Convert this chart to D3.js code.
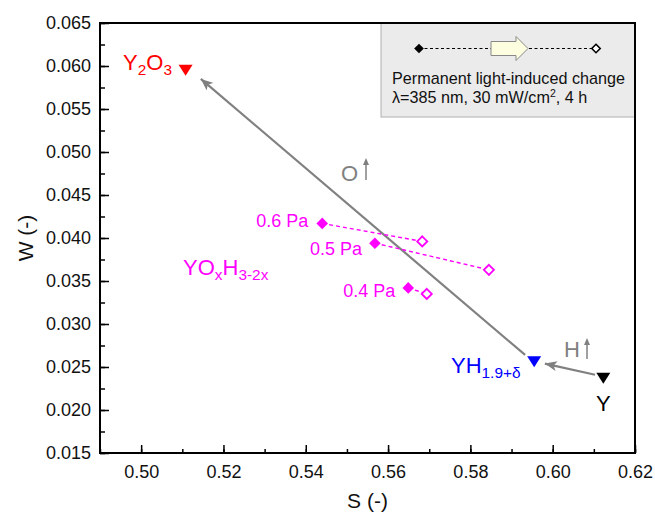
<!DOCTYPE html>
<html><head><meta charset="utf-8">
<script src="https://cdn.jsdelivr.net/npm/d3@7"></script>
<style>body{margin:0;background:#fff}svg{display:block;font-family:"Liberation Sans",Arial,sans-serif}</style>
</head><body><svg id="c" width="655" height="516"></svg>
<script>
// ---- data ----
const pressures = ["0.6 Pa", "0.5 Pa", "0.4 Pa"];
const beforeS = [0.5440, 0.5568, 0.5649];
const beforeW = [0.0417, 0.0394, 0.0342];
const afterS = [0.5683, 0.5845, 0.5694];
const afterW = [0.0396, 0.0363, 0.0335];
const refNames = ["Y2O3", "YH", "Y"];
const refS = [0.5108, 0.5955, 0.6123];
const refW = [0.0595, 0.0256, 0.0237];
const refColors = ["#ff0000", "#0000ff", "#000000"];
// annotation arrows [fromS, fromW, toS, toW]
const arrowO = [0.5933, 0.0264, 0.5145, 0.0585];
const arrowH = [0.6103, 0.0241, 0.5981, 0.0254];
const xTicks = [0.50, 0.52, 0.54, 0.56, 0.58, 0.60, 0.62];
const yTicks = [0.015, 0.020, 0.025, 0.030, 0.035, 0.040, 0.045, 0.050, 0.055, 0.060, 0.065];

const svg = d3.select("#c");
const L = 100, R = 635, T = 23, B = 453;
const x = d3.scaleLinear().domain([0.49, 0.62]).range([L, R]);
const y = d3.scaleLinear().domain([0.015, 0.065]).range([B, T]);
const MAG = "#ff00ff";

// legend box
svg.append("rect").attr("x", 381).attr("y", T).attr("width", R - 381).attr("height", 94)
  .attr("fill", "#ebebeb").attr("stroke", "#b0b0b0").attr("stroke-width", 1);

// axes
const xMinor = d3.range(0.49, 0.6201, 0.01).map(v => +v.toFixed(3));
const yMinor = d3.range(0.015, 0.0651, 0.0025).map(v => +v.toFixed(4));
const gx = svg.append("g").attr("transform", `translate(0,${B})`)
  .call(d3.axisBottom(x).tickValues(xMinor).tickSize(-4).tickFormat(""));
const gx2 = svg.append("g").attr("transform", `translate(0,${B})`)
  .call(d3.axisBottom(x).tickValues(xTicks).tickSize(-8).tickPadding(12).tickFormat(d3.format(".2f")));
const gy = svg.append("g").attr("transform", `translate(${L},0)`)
  .call(d3.axisLeft(y).tickValues(yMinor).tickSize(-5).tickFormat(""));
const gy2 = svg.append("g").attr("transform", `translate(${L},0)`)
  .call(d3.axisLeft(y).tickValues(yTicks).tickSize(-9).tickPadding(9).tickFormat(d3.format(".3f")));
[gx, gx2, gy, gy2].forEach(g => {
  g.select(".domain").remove();
  g.selectAll("line").attr("stroke", "#000").attr("stroke-width", 1.5);
  g.selectAll("text").attr("font-size", 18).attr("fill", "#111").attr("font-family", "Liberation Sans, Arial, sans-serif");
});
svg.append("rect").attr("x", L).attr("y", T).attr("width", R - L).attr("height", B - T)
  .attr("fill", "none").attr("stroke", "#000").attr("stroke-width", 2);

svg.append("text").attr("x", (L + R) / 2).attr("y", 508).attr("text-anchor", "middle")
  .attr("font-size", 21).attr("fill", "#111").text("S (-)");
svg.append("text").attr("transform", `translate(33,${(T + B) / 2}) rotate(-90)`).attr("text-anchor", "middle")
  .attr("font-size", 21).attr("fill", "#111").text("W (-)");

// defs arrowhead
const defs = svg.append("defs");
defs.append("marker").attr("id", "ah").attr("viewBox", "0 0 12 10").attr("refX", 12).attr("refY", 5)
  .attr("markerWidth", 12).attr("markerHeight", 10).attr("markerUnits", "userSpaceOnUse").attr("orient", "auto")
  .append("path").attr("d", "M0,0 L12,5 L0,10 L3,5 Z").attr("fill", "#808080");

[arrowO, arrowH].forEach(a => {
  svg.append("line").attr("x1", x(a[0])).attr("y1", y(a[1])).attr("x2", x(a[2])).attr("y2", y(a[3]))
    .attr("stroke", "#808080").attr("stroke-width", 2.2).attr("marker-end", "url(#ah)");
});

// magenta dashed connections
pressures.forEach((p, i) => {
  svg.append("line").attr("x1", x(beforeS[i])).attr("y1", y(beforeW[i])).attr("x2", x(afterS[i])).attr("y2", y(afterW[i]))
    .attr("stroke", MAG).attr("stroke-width", 1.4).attr("stroke-dasharray", "4,3");
});
const dia = d3.symbol().type(d3.symbolDiamond2).size(85);
svg.selectAll(".fd").data(pressures).join("path")
  .attr("transform", (d, i) => `translate(${x(beforeS[i])},${y(beforeW[i])})`)
  .attr("d", dia).attr("fill", MAG);
svg.selectAll(".od").data(pressures).join("path")
  .attr("transform", (d, i) => `translate(${x(afterS[i])},${y(afterW[i])})`)
  .attr("d", d3.symbol().type(d3.symbolDiamond2).size(65)).attr("fill", "#fff").attr("stroke", MAG).attr("stroke-width", 1.8);

// pressure labels
const plab = [[-66, 4], [-65, 12], [-65, 9]];
pressures.forEach((p, i) => {
  svg.append("text").attr("x", x(beforeS[i]) + plab[i][0]).attr("y", y(beforeW[i]) + plab[i][1])
    .attr("font-size", 18).attr("fill", MAG).text(p);
});

// reference triangles (down)
refNames.forEach((n, i) => {
  const cx = x(refS[i]), cy = y(refW[i]);
  svg.append("path").attr("d", `M${cx - 7},${cy - 5.5} L${cx + 7},${cy - 5.5} L${cx},${cy + 5.5} Z`).attr("fill", refColors[i]);
});

// labels
function sub(parts, xx, yy, col, fs) {
  const tx = svg.append("text").attr("x", xx).attr("y", yy).attr("font-size", fs).attr("fill", col);
  parts.forEach(pp => {
    const ts = tx.append("tspan").text(pp[0]);
    if (pp[1] === "sub") ts.attr("font-size", fs * 0.7).attr("dy", 5);
    else if (pp[1] === "up") ts.attr("dy", -5);
  });
  return tx;
}
sub([["Y"], ["2", "sub"], ["O", "up"], ["3", "sub"]], 123, 70, "#ff0000", 22);
sub([["YO"], ["x", "sub"], ["H", "up"], ["3-2x", "sub"]], 183, 275, MAG, 22);
sub([["YH"], ["1.9+δ", "sub"]], 451, 373, "#0000ff", 22);
svg.append("text").attr("x", 596).attr("y", 411).attr("font-size", 22).attr("fill", "#000").text("Y");
svg.append("text").attr("x", 341).attr("y", 181).attr("font-size", 22).attr("fill", "#808080").text("O");
svg.append("text").attr("x", 564).attr("y", 357).attr("font-size", 22).attr("fill", "#808080").text("H");
// small up arrows
[[366, 180, 158], [587, 359, 338]].forEach(a => {
  svg.append("line").attr("x1", a[0]).attr("y1", a[1]).attr("x2", a[0]).attr("y2", a[2] + 4)
    .attr("stroke", "#808080").attr("stroke-width", 1.5);
  svg.append("path").attr("d", `M${a[0] - 3},${a[2] + 7} L${a[0]},${a[2]} L${a[0] + 3},${a[2] + 7} Z`).attr("fill", "#808080");
});

// legend content
const ly = 48.5;
svg.append("line").attr("x1", 419).attr("y1", ly).attr("x2", 596).attr("y2", ly)
  .attr("stroke", "#000").attr("stroke-width", 1.2).attr("stroke-dasharray", "3,2.5");
svg.append("path").attr("d", `M491,${ly - 7} L516,${ly - 7} L516,${ly - 12} L528,${ly} L516,${ly + 12} L516,${ly + 7} L491,${ly + 7} Z`)
  .attr("fill", "#fdfde0").attr("stroke", "#888").attr("stroke-width", 1);
svg.append("path").attr("transform", `translate(419,${ly})`).attr("d", d3.symbol().type(d3.symbolDiamond2).size(60)).attr("fill", "#000");
svg.append("path").attr("transform", `translate(596,${ly})`).attr("d", d3.symbol().type(d3.symbolDiamond2).size(45))
  .attr("fill", "#fff").attr("stroke", "#000").attr("stroke-width", 1.6);
svg.append("text").attr("x", 392).attr("y", 84).attr("font-size", 16.2).attr("fill", "#111").text("Permanent light-induced change");
const t2 = svg.append("text").attr("x", 392).attr("y", 103).attr("font-size", 16.2).attr("fill", "#111");
t2.append("tspan").text("λ=385 nm, 30 mW/cm");
t2.append("tspan").text("2").attr("font-size", 10.5).attr("dy", -6);
t2.append("tspan").text(", 4 h").attr("dy", 6);
</script></body></html>
